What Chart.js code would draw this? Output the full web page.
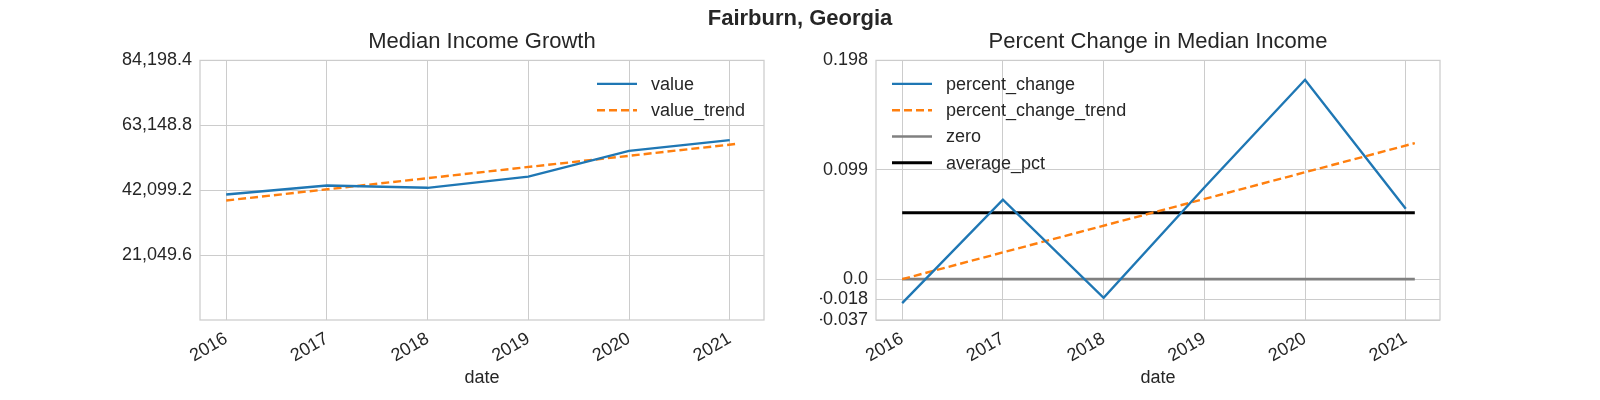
<!DOCTYPE html>
<html>
<head>
<meta charset="utf-8">
<script src="https://cdn.jsdelivr.net/npm/chart.js@4.4.0/dist/chart.umd.min.js"></script>
<style>
  body { margin: 0; background: #fff; }
  #wrap { position: relative; width: 1600px; height: 400px; }
  .box { position: absolute; top: 0; width: 800px; height: 400px; }
  #suptitle {
    position: absolute; left: 0; top: 5px; width: 1600px; text-align: center;
    font: bold 22px "Liberation Sans", Arial, sans-serif; line-height: 26px; color: #262626;
  }
</style>
</head>
<body>
<div id="wrap">
  <div class="box" style="left:0"><canvas id="js--chart--1" width="800" height="400"></canvas></div>
  <div class="box" style="left:800px"><canvas id="js--chart--2" width="800" height="400"></canvas></div>
  <div id="suptitle">Fairburn, Georgia</div>
</div>
<script>
const years = [2016, 2017, 2018, 2019, 2020, 2021];
const yearLabels = ["2016", "2017", "2018", "2019", "2020", "2021"];
const trendYears = [2016, 2021.09];

// left: median income
const medianIncome = [40700, 43620, 42870, 46500, 54850, 58330];
const incomeTrend = [38760, 57200];
const incomeTicks = [21049.6, 42099.2, 63148.8, 84198.4];
const incomeTickLabels = ["21,049.6", "42,099.2", "63,148.8", "84,198.4"];

// right: percent change
const pctChange = [-0.0217, 0.0719, -0.0169, 0.083, 0.1805, 0.0637];
const pctTrend = [0.0, 0.1231];
const zeroLine = [0, 0];
const averagePct = [0.0601, 0.0601];
const pctTicks = [-0.037, -0.018, 0.0, 0.099, 0.198];
const pctTickLabels = ["-0.037", "-0.018", "0.0", "0.099", "0.198"];

const FONT = '"Liberation Sans", Arial, sans-serif';
const TEXT = "#262626";
const GRID = "#cccccc";
const BLUE = "#1f77b4";
const ORANGE = "#ff7f0e";

function points(xs, ys) {
  return xs.map(function (x, i) { return { x: x, y: ys[i] }; });
}

function line(label, xs, ys, color, width, dash) {
  return {
    label: label,
    data: points(xs, ys),
    borderColor: color,
    backgroundColor: color,
    borderWidth: width,
    borderDash: dash || [],
    pointRadius: 0,
    tension: 0,
    fill: false
  };
}

// light grey box round the plot area
const framePlugin = {
  id: "frame",
  beforeDatasetsDraw: function (chart) {
    const a = chart.chartArea, ctx = chart.ctx;
    ctx.save();
    ctx.strokeStyle = GRID;
    ctx.lineWidth = 1.25;
    ctx.strokeRect(a.left, a.top, a.right - a.left, a.bottom - a.top);
    ctx.restore();
  }
};

// legend drawn inside the plot area
function insideLegend(side, offsetX) {
  return {
    id: "insideLegend",
    afterDatasetsDraw: function (chart) {
      const a = chart.chartArea, ctx = chart.ctx;
      const x0 = side === "right" ? a.right - offsetX : a.left + offsetX;
      ctx.save();
      ctx.font = "18px " + FONT;
      ctx.textBaseline = "middle";
      ctx.fillStyle = TEXT;
      chart.data.datasets.forEach(function (ds, i) {
        const y = a.top + 23.5 + i * 26.3;
        ctx.strokeStyle = ds.borderColor;
        ctx.lineWidth = ds.borderWidth;
        ctx.setLineDash(ds.borderDash);
        ctx.beginPath();
        ctx.moveTo(x0, y);
        ctx.lineTo(x0 + 40, y);
        ctx.stroke();
        ctx.setLineDash([]);
        ctx.fillText(ds.label, x0 + 54, y + 1);
      });
      ctx.restore();
    }
  };
}

function makeConfig(title, datasets, yMin, yMax, yTicks, yLabels, yWidth, padding) {
  return {
    type: "line",
    data: { datasets: datasets },
    options: {
      responsive: false,
      animation: false,
      devicePixelRatio: 1,
      layout: { padding: padding },
      plugins: {
        legend: { display: false },
        tooltip: { enabled: false },
        title: {
          display: true,
          text: title,
          fullSize: false,
          color: TEXT,
          font: { family: FONT, size: 22, weight: "normal" },
          padding: { top: 29, bottom: 5 }
        }
      },
      scales: {
        x: {
          type: "linear",
          min: 2015.74,
          max: 2021.34,
          afterBuildTicks: function (s) { s.ticks = years.map(function (v) { return { value: v }; }); },
          afterFit: function (s) { s.height = 80; },
          ticks: {
            autoSkip: false,
            minRotation: 30,
            maxRotation: 30,
            padding: 8,
            color: TEXT,
            font: { family: FONT, size: 18 },
            callback: function (v, i) { return yearLabels[i]; }
          },
          grid: { color: GRID, lineWidth: 1, drawTicks: false },
          border: { display: false },
          title: {
            display: true,
            text: "date",
            color: TEXT,
            font: { family: FONT, size: 18 },
            padding: { top: 0, bottom: 11 }
          }
        },
        y: {
          type: "linear",
          min: yMin,
          max: yMax,
          afterBuildTicks: function (s) { s.ticks = yTicks.map(function (v) { return { value: v }; }); },
          afterFit: function (s) { s.width = yWidth; },
          ticks: {
            padding: 8,
            color: TEXT,
            font: { family: FONT, size: 18 },
            callback: function (v, i) { return yLabels[i]; }
          },
          grid: { color: GRID, lineWidth: 1, drawTicks: false },
          border: { display: false }
        }
      }
    }
  };
}

const config1 = makeConfig(
  "Median Income Growth",
  [
    line("value", years, medianIncome, BLUE, 2.4),
    line("value_trend", trendYears, incomeTrend, ORANGE, 2.4, [8, 4])
  ],
  0, 84198.4, incomeTicks, incomeTickLabels, 100,
  { left: 100, right: 36, top: 0, bottom: 0 }
);
config1.plugins = [framePlugin, insideLegend("right", 167)];
new Chart(document.getElementById("js--chart--1"), config1);

const config2 = makeConfig(
  "Percent Change in Median Income",
  [
    line("percent_change", years, pctChange, BLUE, 2.4),
    line("percent_change_trend", trendYears, pctTrend, ORANGE, 2.4, [8, 4]),
    line("zero", trendYears, zeroLine, "#808080", 2.6),
    line("average_pct", trendYears, averagePct, "#000000", 3)
  ],
  -0.037, 0.198, pctTicks, pctTickLabels, 56,
  { left: 20, right: 160, top: 0, bottom: 0 }
);
config2.plugins = [framePlugin, insideLegend("left", 16)];
new Chart(document.getElementById("js--chart--2"), config2);
</script>
</body>
</html>
